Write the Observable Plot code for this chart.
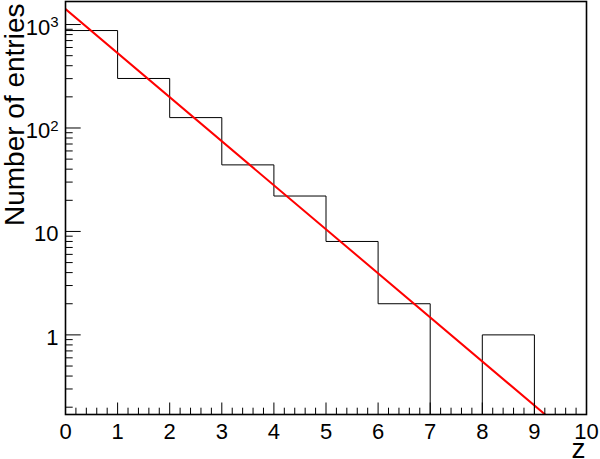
<!DOCTYPE html>
<html>
<head>
<meta charset="utf-8">
<script src="https://cdn.jsdelivr.net/npm/d3@7"></script>
<script src="https://cdn.jsdelivr.net/npm/@observablehq/plot@0.6"></script>
<style>
  html, body { margin: 0; padding: 0; background: white; overflow: hidden; }
</style>
</head>
<body>
<script>
// Histogram bin edges and contents
const zEdges = [0, 1, 2, 3, 4, 5, 6, 7, 8, 9, 10];
const counts = [875, 301, 126, 44, 22, 8, 2, 0, 1, 0];

// Fitted exponential line (read endpoints, straight in log scale)
const fitZ = [0, 10];
const fitN = [1410, 0.078];

// Axis ticks and labels
const xMajorTicks = [0, 1, 2, 3, 4, 5, 6, 7, 8, 9, 10];
const xTickLabels = ["0", "1", "2", "3", "4", "5", "6", "7", "8", "9", "10"];
const yMajorTicks = [1, 10, 100, 1000];
const yTickLabels = ["1", "10", "10^2", "10^3"];
const yDomain = [0.17, 1670];
const xTitle = "z";
const yTitle = "Number of entries";

// minor ticks
const xMinorTicks = d3.range(0, 50).map(i => i / 5).filter(v => Math.abs(v - Math.round(v)) > 1e-9);
const yMinorTicks = [];
for (const dec of [0.1, 1, 10, 100, 1000]) {
  for (let k = 2; k <= 9; k++) {
    const v = k * dec;
    if (v >= yDomain[0] && v <= yDomain[1]) yMinorTicks.push(v);
  }
}

// histogram outline points
const histPts = [];
counts.forEach((c, i) => {
  const v = c > 0 ? c : yDomain[0];
  histPts.push({z: zEdges[i], n: v});
  histPts.push({z: zEdges[i + 1], n: v});
});
const fitPts = fitZ.map((z, i) => ({z, n: fitN[i]}));

const W = 600, H = 459, mL = 65, mR = 14, mT = 1, mB = 45;
const frameW = W - mL - mR, frameH = H - mT - mB;
const font = "'Liberation Sans', Arial, Helvetica, sans-serif";

const chart = Plot.plot({
  width: W,
  height: H,
  marginLeft: mL,
  marginRight: mR,
  marginTop: mT,
  marginBottom: mB,
  x: {domain: [0, 10]},
  y: {type: "log", domain: yDomain},
  style: {fontFamily: font, background: "white", color: "black", overflow: "visible"},
  marks: [
    Plot.line(histPts, {x: "z", y: "n", stroke: "black", strokeWidth: 1, clip: true}),
    Plot.line(fitPts, {x: "z", y: "n", stroke: "#ff0000", strokeWidth: 2, clip: true}),
    // x ticks (inward)
    Plot.ruleX(xMajorTicks, {x: d => d, stroke: "black", strokeWidth: 1, insetTop: frameH - 11.5}),
    Plot.ruleX(xMinorTicks, {x: d => d, stroke: "black", strokeWidth: 1, insetTop: frameH - 6.3}),
    // y ticks (inward)
    Plot.ruleY(yMajorTicks, {y: d => d, stroke: "black", strokeWidth: 1, insetRight: frameW - 15.7}),
    Plot.ruleY(yMinorTicks, {y: d => d, stroke: "black", strokeWidth: 1, insetRight: frameW - 7.7}),
    Plot.frame({stroke: "black", strokeWidth: 1.6}),
    Plot.axisX(xMajorTicks, {
      tickSize: 0, tickPadding: 9, fontSize: 22, label: null,
      tickFormat: d => xTickLabels[xMajorTicks.indexOf(d)]
    }),
    Plot.axisY(yMajorTicks, {
      tickSize: 0, tickPadding: 7, fontSize: 22, label: null, dy: 3,
      tickFormat: d => yTickLabels[yMajorTicks.indexOf(d)]
    }),
    Plot.text([xTitle], {
      text: d => d, frameAnchor: "bottom-right", textAnchor: "end", lineAnchor: "bottom",
      fontSize: 28, dx: -1, dy: 43
    }),
    Plot.text([yTitle], {
      text: d => d, frameAnchor: "top-left", textAnchor: "end", lineAnchor: "bottom",
      rotate: -90, fontSize: 28, dx: -42, dy: 2
    })
  ]
});

// render "10^k" labels with a real superscript
d3.select(chart).selectAll("text").each(function () {
  const t = this.textContent;
  const m = /^(\d+)\^(\d+)$/.exec(t);
  if (!m) return;
  const sel = d3.select(this);
  sel.text(null);
  sel.append("tspan").text(m[1]);
  sel.append("tspan").attr("font-size", "15px").attr("dy", "-0.5em").text(m[2]);
});
document.body.appendChild(chart);
</script>
</body>
</html>
